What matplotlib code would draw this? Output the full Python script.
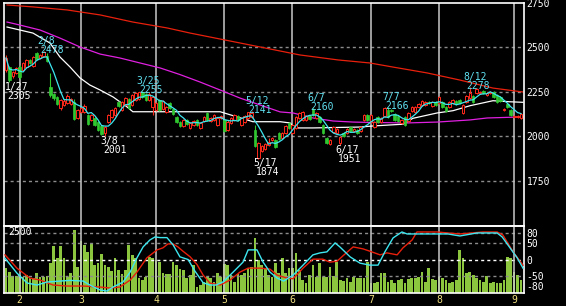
import numpy as np
import pandas as pd
import matplotlib
matplotlib.use("Agg")
import matplotlib.pyplot as plt
from matplotlib.patches import Rectangle

plt.rcParams['font.family'] = ['DejaVu Sans Mono']

# daily candles (Jan 27 .. early Sep)
opens = [2374, 2390, 2340, 2357, 2390, 2374, 2390, 2430, 2396, 2469, 2441, 2455, 2450, 2278, 2240, 2222,
         2160, 2177, 2188, 2183, 2194, 2104, 2138, 2138, 2121, 2093, 2104, 2082, 2060, 2020, 2082, 2110,
         2121, 2194, 2149, 2177, 2210, 2177, 2205, 2210, 2250, 2238, 2205, 2166, 2149, 2205, 2155, 2138,
         2188, 2155, 2110, 2082, 2060, 2093, 2048, 2065, 2093, 2048, 2087, 2132, 2087, 2093, 2065, 2104,
         2093, 2037, 2076, 2093, 2115, 2065, 2082, 2104, 2110, 2037, 1880, 1918, 1930, 1952, 1980, 1980,
         2020, 1992, 2020, 2076, 2020, 2048, 2104, 2093, 2093, 2115, 2155, 2104, 2110, 2065, 1992, 1958,
         2026, 2020, 1964, 2020, 2020, 2054, 2031, 2037, 2031, 2093, 2121, 2082, 2054, 2110, 2082, 2115,
         2149, 2149, 2127, 2115, 2076, 2110, 2087, 2143, 2138, 2166, 2177, 2177, 2194, 2172, 2194, 2188,
         2194, 2166, 2166, 2188, 2200, 2205, 2132, 2194, 2216, 2228, 2244, 2244, 2255, 2233, 2244, 2250,
         2233, 2222, 2149, 2183, 2149, 2110, 2110, 2104]
closes = [2441, 2317, 2362, 2385, 2334, 2413, 2430, 2413, 2447, 2436, 2458, 2472, 2425, 2233, 2215, 2183,
          2205, 2200, 2228, 2210, 2098, 2149, 2160, 2172, 2070, 2121, 2065, 2037, 2015, 2054, 2121, 2149,
          2160, 2172, 2194, 2216, 2160, 2233, 2244, 2250, 2222, 2205, 2238, 2222, 2188, 2149, 2200, 2166,
          2160, 2127, 2082, 2060, 2093, 2070, 2076, 2088, 2065, 2076, 2110, 2093, 2104, 2121, 2104, 2115,
          2031, 2082, 2104, 2121, 2093, 2104, 2115, 2138, 2132, 1946, 1963, 1946, 1958, 1969, 1990, 1941,
          1986, 2020, 2059, 2048, 2065, 2110, 2132, 2138, 2115, 2098, 2121, 2132, 2082, 2020, 1964, 1980,
          2054, 2043, 1997, 2003, 2043, 2031, 2043, 2020, 2054, 2121, 2093, 2121, 2082, 2082, 2104, 2160,
          2110, 2143, 2093, 2087, 2093, 2065, 2132, 2166, 2166, 2183, 2200, 2194, 2188, 2194, 2177, 2222,
          2166, 2143, 2194, 2205, 2183, 2188, 2177, 2228, 2244, 2194, 2266, 2250, 2244, 2244, 2250, 2222,
          2194, 2200, 2155, 2166, 2121, 2115, 2115, 2127]
highs = [2458, 2395, 2368, 2392, 2400, 2418, 2436, 2436, 2452, 2472, 2464, 2478, 2470, 2357, 2245, 2228,
         2210, 2210, 2240, 2216, 2210, 2155, 2166, 2180, 2127, 2127, 2110, 2087, 2065, 2060, 2127, 2155,
         2166, 2200, 2200, 2222, 2216, 2238, 2250, 2252, 2255, 2244, 2248, 2228, 2194, 2210, 2205, 2172,
         2194, 2160, 2115, 2087, 2098, 2098, 2082, 2093, 2098, 2082, 2115, 2138, 2110, 2127, 2110, 2121,
         2098, 2093, 2110, 2127, 2121, 2110, 2121, 2138, 2141, 2065, 1970, 1952, 1964, 1990, 1997, 1986,
         2026, 2026, 2065, 2082, 2070, 2115, 2138, 2143, 2121, 2121, 2160, 2138, 2115, 2070, 1997, 1986,
         2060, 2048, 2003, 2026, 2048, 2060, 2048, 2043, 2060, 2127, 2127, 2127, 2087, 2115, 2110, 2163,
         2166, 2155, 2132, 2121, 2098, 2115, 2138, 2172, 2172, 2188, 2205, 2200, 2200, 2200, 2200, 2228,
         2200, 2172, 2200, 2210, 2205, 2210, 2183, 2233, 2278, 2233, 2270, 2255, 2260, 2250, 2255, 2255,
         2238, 2228, 2160, 2188, 2155, 2121, 2121, 2132]
lows = [2365, 2305, 2330, 2350, 2325, 2368, 2385, 2405, 2390, 2430, 2436, 2450, 2418, 2222, 2205, 2175,
        2150, 2170, 2180, 2177, 2090, 2098, 2132, 2132, 2065, 2087, 2060, 2031, 2008, 2001, 2076, 2104,
        2115, 2166, 2143, 2172, 2155, 2172, 2200, 2205, 2216, 2200, 2200, 2121, 2143, 2143, 2149, 2132,
        2155, 2121, 2076, 2054, 2054, 2065, 2043, 2060, 2060, 2043, 2082, 2087, 2082, 2087, 2060, 2098,
        2026, 2031, 2070, 2087, 2087, 2060, 2076, 2098, 2104, 1940, 1874, 1912, 1924, 1946, 1975, 1935,
        1980, 1986, 2015, 2043, 2015, 2043, 2098, 2087, 2087, 2093, 2115, 2098, 2076, 2015, 1958, 1952,
        2020, 2015, 1951, 1997, 2015, 2026, 2026, 2015, 2026, 2087, 2087, 2076, 2048, 2076, 2076, 2110,
        2104, 2138, 2087, 2082, 2070, 2060, 2082, 2138, 2132, 2160, 2172, 2172, 2183, 2166, 2172, 2183,
        2160, 2138, 2160, 2183, 2177, 2183, 2127, 2188, 2210, 2188, 2238, 2238, 2238, 2228, 2238, 2216,
        2188, 2194, 2143, 2160, 2115, 2104, 2104, 2098]
volume = [1011, 874, 697, 697, 738, 669, 738, 601, 601, 806, 669, 642, 697, 1216, 1940, 1421,
          1940, 1421, 669, 806, 2582, 1079, 2131, 1967, 1694, 1994, 1147, 1216, 1585, 1147, 1079, 902,
          1421, 943, 765, 943, 1967, 1557, 1421, 601, 533, 669, 1489, 1421, 1352, 1284, 806, 765,
          765, 1284, 1147, 970, 943, 601, 738, 1147,
          260, 328, 464, 669, 601, 464, 806, 669, 1188, 1147, 738, 464, 765, 738, 806, 1011,
          1079, 2240, 1352, 1147, 1011, 738, 669, 1216, 806, 1421, 806, 1011, 1011, 1626, 943, 533,
          396, 738, 1147, 669, 1216, 669, 669, 1079, 697, 1284, 533, 505, 601, 464, 642, 601,
          601, 601, 1284,
          396, 423, 464, 806, 806, 464, 533, 396, 533, 560, 396, 574, 628, 601, 669, 874,
          464, 1011, 574, 533, 669, 601, 533, 396, 464, 533, 1762, 1421, 806, 874, 738, 628,
          533, 464, 697, 396, 464, 423, 396, 533, 1489, 1421, 874, 738, 533]

# moving averages (day index, price)
white_day = [0.3, 4.1, 7.9, 12.9, 15.8, 18.8, 21.7, 24.6, 27.6, 31.4, 35.5, 37.2, 51.0, 62.8, 72.4,
             80.4, 83.3, 84.8, 90.0, 103.8, 107.6, 116.4, 119.3, 126.4, 131.1, 136.1, 142.8, 147.8, 151.6]
white_val = [2615, 2598, 2581, 2525, 2447, 2390, 2329, 2289, 2261, 2222, 2166, 2139, 2139, 2139, 2083,
             2083, 2076, 2048, 2048, 2053, 2059, 2069, 2102, 2132, 2145, 2173, 2201, 2195, 2192]
magenta_day = [0.3, 4.1, 10.0, 15.8, 21.7, 27.6, 33.4, 39.3, 45.2, 51.0, 56.9, 62.8, 68.6, 74.5, 80.4,
               84.2, 90.0, 95.9, 101.8, 106.7, 117.6, 126.4, 136.1, 141.1, 151.6]
magenta_val = [2643, 2626, 2598, 2553, 2503, 2463, 2441, 2413, 2385, 2348, 2306, 2261, 2216, 2177, 2138,
               2132, 2104, 2087, 2081, 2079, 2076, 2081, 2093, 2104, 2110]
red_day = [0.3, 7.9, 17.9, 27.6, 37.2, 47.2, 54.0, 71.6, 86.2, 97.4, 106.7, 113.5, 123.5, 133.1, 142.8, 151.6]
red_val = [2739, 2728, 2711, 2683, 2643, 2610, 2581, 2514, 2458, 2430, 2413, 2390, 2357, 2317, 2272, 2250]

# oscillator (lower panel)
osc_cyan_day = [-0.3, 3.2, 6.2, 9.1, 12.0, 15.8, 18.8, 22.6, 24.6, 27.6, 29.6, 31.4, 34.3, 36.4, 38.4,
                40.2, 42.2, 43.7, 45.2, 47.2, 49.0, 51.0, 53.4, 55.4, 57.8, 59.8, 61.6, 63.6, 66.6, 69.5,
                71.0, 73.6, 75.4, 77.4, 79.5, 81.4, 84.2, 87.1, 90.0, 92.1, 94.1, 96.5, 97.9, 100.9, 103.8,
                106.7, 109.1, 111.1, 113.5, 116.1, 117.6, 126.4, 129.6, 133.1, 138.1, 144.0, 145.5, 147.8,
                149.9, 151.6]
osc_cyan_val = [4, -41, -71, -77, -68, -65, -63, -65, -77, -92, -95, -83, -68, -38, 5,
                38, 59, 68, 66, 66, 44, 8, 0, -35, -70, -77, -77, -68, -38, -8,
                29, 29, -8, -38, -56, -65, -47, -17, 14, 20, 23, 50, 38, 8, -11,
                -17, -17, 23, 65, 83, 77, 77, 77, 71, 80, 80, 68, 35, 5, -26]
osc_red_day = [-0.3, 3.2, 7.0, 10.0, 13.8, 17.9, 22.6, 27.6, 30.5, 33.4, 36.4, 38.4, 41.3, 44.3, 46.0,
               47.5, 49.0, 50.4, 51.9, 54.0, 56.0, 57.8, 59.8, 62.8, 65.7, 68.6, 71.0, 74.5, 77.4, 79.5,
               82.4, 84.2, 87.1, 90.0, 92.9, 95.0, 97.1, 98.8, 101.8, 104.7, 106.7, 109.7, 111.7, 114.7,
               116.4, 119.1, 120.5, 126.4, 129.6, 133.1, 139.9, 144.0, 145.7, 148.7, 151.6]
osc_red_val = [14, -26, -56, -62, -77, -80, -80, -83, -86, -83, -62, -38, 5, 29, 35,
               47, 47, 38, 25, 8, -15, -47, -71, -77, -62, -38, -26, -26, -29, -47,
               -56, -58, -26, 1, 1, -8, -5, 11, 38, 32, 25, 14, 20, 14,
               35, 59, 83, 83, 80, 77, 83, 83, 74, 23, -17]

month_labels = ['2', '3', '4', '5', '6', '7', '8', '9']
month_start = [4, 22, 44, 64, 84, 107, 127, 149]

# (day index, date, price)
high_marks = [(11, '2/8', 2478), (40, '3/25', 2255), (72, '5/12', 2141),
              (90, '6/7', 2160), (112, '7/7', 2166), (136, '8/12', 2278)]
low_marks = [(1, '1/27', 2305), (29, '3/8', 2001), (74, '5/17', 1874), (98, '6/17', 1951)]

price_ticks = [1750, 2000, 2250, 2500, 2750]
osc_ticks = [80, 50, 0, -50, -80]

UP = '#ff2a1a'
DOWN = '#30c830'
CYAN = '#3ee6f0'
LABEL_CYAN = '#60e0f0'
GRID = '#8c8c8c'
VLINE = '#c8c8c8'

W, H = 566, 306
fig = plt.figure(figsize=(W / 100, H / 100), dpi=100, facecolor='black')


def px_axes(l, t, r, b):
    return fig.add_axes([l / W, 1 - b / H, (r - l) / W, (b - t) / H])


xlim = (-0.59, 151.9)

# ---- price panel
ax = px_axes(4, 3, 524, 226)
ax.set_facecolor('black')
ax.set_xlim(*xlim)
ax.set_ylim(1497, 2750)
for p in price_ticks[:-1]:
    ax.axhline(p, color=GRID, lw=1.0, ls=(0, (2.2, 2.2)), zorder=1)
for m in month_start:
    ax.axvline(m, color=VLINE, lw=1.1, zorder=1)

ax.plot(red_day, red_val, color='#e8200c', lw=0.9, zorder=2)
ax.plot(magenta_day, magenta_val, color='#e020e0', lw=0.9, zorder=2)
ax.plot(white_day, white_val, color='white', lw=0.9, zorder=2)

days = np.arange(len(closes))
for i in days:
    o, c, h, l = opens[i], closes[i], highs[i], lows[i]
    col = UP if c >= o else DOWN
    ax.vlines(i, l, h, color=col, lw=0.8, zorder=3)
    lo, hgt = min(o, c), max(abs(c - o), 4)
    if c >= o:
        ax.add_patch(Rectangle((i - 0.37, lo), 0.74, hgt, facecolor='black',
                               edgecolor=col, lw=0.7, zorder=4))
    else:
        ax.add_patch(Rectangle((i - 0.37, lo), 0.74, hgt, facecolor=col,
                               edgecolor=col, lw=0.5, zorder=4))

cyan_ma = pd.Series(closes).rolling(5, min_periods=1).mean()
ax.plot(days, cyan_ma, color=CYAN, lw=0.9, zorder=5)

for i, d, p in high_marks:
    ax.annotate(str(p), (i, p), xytext=(-3, -2), textcoords='offset pixels',
                color=LABEL_CYAN, fontsize=7, ha='left', va='baseline', zorder=6)
    ax.annotate(d, (i, p), xytext=(-6, 7), textcoords='offset pixels',
                color=LABEL_CYAN, fontsize=7, ha='left', va='baseline', zorder=6)
for i, d, p in low_marks:
    ax.annotate(d, (i, p), xytext=(-5, -7.5), textcoords='offset pixels',
                color='white', fontsize=7, ha='left', va='baseline', zorder=6)
    ax.annotate(str(p), (i, p), xytext=(-2, -16.5), textcoords='offset pixels',
                color='white', fontsize=7, ha='left', va='baseline', zorder=6)

ax.yaxis.tick_right()
ax.set_yticks(price_ticks)
ax.set_yticklabels([str(t) for t in price_ticks])
ax.set_xticks([])
ax.tick_params(axis='y', colors='white', length=0, pad=2, labelsize=7)
for s in ax.spines.values():
    s.set_color('white')
    s.set_linewidth(1.2)

# ---- volume (behind oscillator)
axv = px_axes(4, 226, 524, 293)
axv.set_facecolor('black')
axv.set_xlim(*xlim)
axv.set_ylim(0, 2746)
axv.bar(days, volume, width=0.8, color='#8cc63f', zorder=2)
axv.axis('off')

# ---- oscillator panel
ax2 = px_axes(4, 226, 524, 293)
ax2.set_facecolor('none')
ax2.set_xlim(*xlim)
ax2.set_ylim(-101, 101)
for v in [80, 50, -50]:
    ax2.axhline(v, color=GRID, lw=1.0, ls=(0, (2.2, 2.2)), zorder=1)
ax2.axhline(0, color='white', lw=1.0, ls=(0, (2.2, 2.2)), zorder=1)
for m in month_start:
    ax2.axvline(m, color=VLINE, lw=1.1, zorder=1)
ax2.plot(osc_red_day, osc_red_val, color='#e8200c', lw=1.0, zorder=3)
ax2.plot(osc_cyan_day, osc_cyan_val, color=CYAN, lw=1.0, zorder=3)
ax2.text(0.6, 84, '2500', color='white', fontsize=7, ha='left', va='center', zorder=4)

ax2.yaxis.tick_right()
ax2.set_yticks(osc_ticks)
ax2.set_yticklabels([str(t) for t in osc_ticks])
ax2.set_xticks(month_start)
ax2.set_xticklabels(month_labels)
ax2.tick_params(axis='y', colors='white', length=0, pad=2, labelsize=7)
ax2.tick_params(axis='x', colors='#f0e080', length=0, pad=1.5, labelsize=7)
for s in ax2.spines.values():
    s.set_color('white')
    s.set_linewidth(1.2)

fig.savefig('out.png', dpi=100, facecolor='black')
